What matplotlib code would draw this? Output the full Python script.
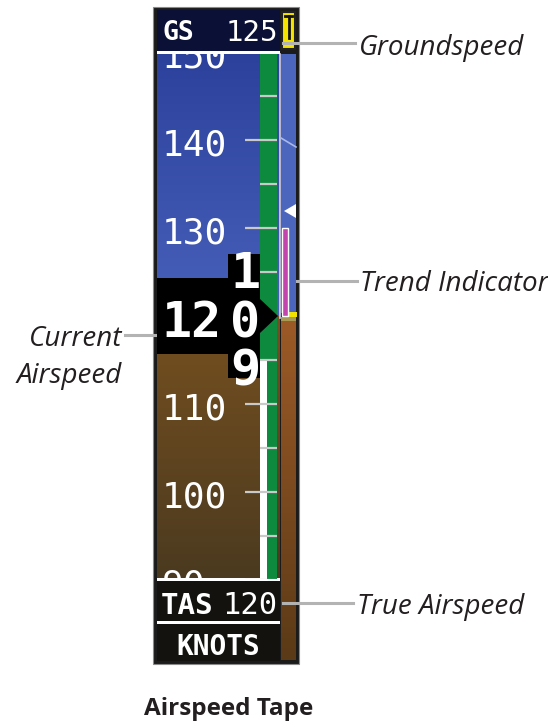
import numpy as np
import matplotlib.pyplot as plt
from matplotlib.patches import Rectangle, Polygon
from matplotlib.colors import LinearSegmentedColormap

# airspeed data (knots)
current_speed = 120
ground_speed = 125
true_airspeed = 120
trend_end = 130          # where the trend vector points to
white_arc_top = 115      # top of the white (flap) arc
tick_speeds = list(range(85, 160, 5))
label_speeds = [90, 100, 110, 130, 140, 150]   # 120 sits under the pointer box
roll_digits = ["1", "0", "9"]   # drum digits above / at / below the pointer

# callout texts
callouts = ["Groundspeed", "Trend Indicator", "True Airspeed"]
left_callout = ["Current", "Airspeed"]
title = "Airspeed Tape"

# layout (pixels)
W, H = 548, 726
px_per_kt = 8.8
y_cur = 316
tape_top, tape_bot = 54, 579
tx0, tx1 = 157, 297
horizon = 316

mono = "DejaVu Sans Mono"
label_font = "Open Sans"
lead_col = "#b3b3b3"

fig = plt.figure(figsize=(W / 100, H / 100), dpi=100)
ax = fig.add_axes([0, 0, 1, 1])

# frame of the instrument
ax.add_patch(Rectangle((153, 7), 146, 657, fc="#1b1b1b", ec="#8a8a8a", lw=0.8, zorder=0))

# attitude background behind the tape
sky = LinearSegmentedColormap.from_list("sky", ["#2c419c", "#4861ba"])
gnd = LinearSegmentedColormap.from_list("gnd", ["#76501f", "#4b3a20"])
grad = np.linspace(0, 1, 200).reshape(-1, 1)
ax.imshow(grad, extent=(157, 280, horizon, tape_top), cmap=sky, aspect="auto", zorder=1)
ax.imshow(grad, extent=(157, 280, tape_bot, horizon), cmap=gnd, aspect="auto", zorder=1)

# right strip (attitude showing through)
strip_gnd = LinearSegmentedColormap.from_list("sg", ["#9c5a27", "#5b3a17"])
ax.add_patch(Rectangle((281, tape_top), 15, 313 - tape_top, fc="#4d66bd", ec="none", zorder=1))
ax.imshow(grad, extent=(281, 296, 660, 318), cmap=strip_gnd, aspect="auto", zorder=1)
ax.add_patch(Rectangle((288, 312), 9, 5, fc="#f2e200", ec="none", zorder=2))
ax.add_patch(Rectangle((281, 317), 15, 4, fc="#a89a55", ec="none", zorder=2))
ax.plot([280, 280], [tape_top, 318], color="#d8d8f0", lw=1.2, zorder=2)
ax.plot([281, 296], [138, 147], color="#a8b8e8", lw=1.2, zorder=2)
ax.add_patch(Polygon([(284, 211), (296, 204), (296, 218)], closed=True, fc="white", ec="none", zorder=2))

# groundspeed box
ax.add_patch(Rectangle((157, 10), 123, 41, fc="#0a1036", ec="none", zorder=2))
ax.add_patch(Rectangle((157, 51), 123, 3, fc="white", ec="none", zorder=3))
ax.add_patch(Rectangle((282, 12), 13, 37, fc="#f5e400", ec="#222222", lw=1.5, zorder=2))
ax.plot([285, 292], [16, 16], color="#111111", lw=2, zorder=3)
ax.plot([288.5, 288.5], [16, 38], color="#111111", lw=2, zorder=3)
ax.text(162, 40, "GS", family=mono, weight="bold", fontsize=19, color="white", va="baseline", zorder=4)
ax.text(278, 41, str(ground_speed), family=mono, fontsize=21, color="white", ha="right",
        va="baseline", zorder=4)

# true airspeed + units boxes
ax.add_patch(Rectangle((157, 578), 123, 3, fc="white", ec="none", zorder=3))
ax.add_patch(Rectangle((157, 581), 123, 40, fc="#13120e", ec="none", zorder=2))
ax.add_patch(Rectangle((157, 621), 123, 2.5, fc="white", ec="none", zorder=3))
ax.add_patch(Rectangle((157, 623.5), 123, 37, fc="#13120e", ec="none", zorder=2))
ax.text(161, 614, "TAS", family=mono, weight="bold", fontsize=21, color="white", va="baseline", zorder=4)
ax.text(278, 614, str(true_airspeed), family=mono, fontsize=22, color="white", ha="right",
        va="baseline", zorder=4)
ax.text(218, 655, "KNOTS", family=mono, weight="bold", fontsize=20, color="white", ha="center",
        va="baseline", zorder=4)

# callouts
ax.plot([283, 355], [43, 43], color=lead_col, lw=2.2, zorder=6)
ax.text(359, 55, callouts[0], family=label_font, style="italic", fontsize=20, color="#231f20",
        va="baseline")
ax.plot([297, 357], [281, 281], color=lead_col, lw=2.2, zorder=6)
ax.text(360, 291, callouts[1], family=label_font, style="italic", fontsize=20, color="#231f20",
        va="baseline")
ax.plot([283, 353], [603, 603], color=lead_col, lw=2.2, zorder=6)
ax.text(357, 614, callouts[2], family=label_font, style="italic", fontsize=20, color="#231f20",
        va="baseline")
ax.plot([125, 160], [335, 335], color=lead_col, lw=2.2, zorder=6)
ax.text(122, 346, left_callout[0], family=label_font, style="italic", fontsize=20, color="#231f20",
        ha="right", va="baseline")
ax.text(122, 383, left_callout[1], family=label_font, style="italic", fontsize=20, color="#231f20",
        ha="right", va="baseline")
ax.text(229, 715, title, family=label_font, weight="bold", fontsize=17.5, color="#231f20",
        ha="center", va="baseline")

ax.set_xlim(0, W)
ax.set_ylim(H, 0)
ax.axis("off")

# the speed tape itself, in knots
tax = fig.add_axes([tx0 / W, 1 - tape_bot / H, (tx1 - tx0) / W, (tape_bot - tape_top) / H])
s_lo = current_speed - (tape_bot - y_cur) / px_per_kt
s_hi = current_speed + (y_cur - tape_top) / px_per_kt
tax.set_xlim(tx0, tx1)
tax.set_ylim(s_lo, s_hi)
tax.axis("off")

# green / white arcs
tax.add_patch(Rectangle((260, white_arc_top), 17, s_hi - white_arc_top, fc="#0e8a3e", ec="none", zorder=1))
tax.add_patch(Rectangle((267, s_lo), 10, white_arc_top - s_lo, fc="#0e8a3e", ec="none", zorder=1))
tax.add_patch(Rectangle((260, s_lo), 7, white_arc_top - s_lo, fc="white", ec="none", zorder=1))

for s in tick_speeds:
    x0 = 245 if s % 10 == 0 else 260
    tax.plot([x0, 277], [s, s], color="#c9c9c9", lw=1.6, zorder=2, solid_capstyle="butt")

drop = 15 / px_per_kt
for s in label_speeds:
    tax.text(162, s - drop, str(s), family=mono, fontsize=26, color="white", va="baseline",
             clip_on=True, zorder=2)

# current airspeed pointer
bh = 38 / px_per_kt
th = 62 / px_per_kt
ah = 17 / px_per_kt
c = current_speed
ptr = [(157, c + bh), (228, c + bh), (228, c + th), (260, c + th), (260, c + ah), (278, c),
       (260, c - ah), (260, c - th), (228, c - th), (228, c - bh), (157, c - bh)]
tax.add_patch(Polygon(ptr, closed=True, fc="black", ec="none", zorder=5))
tax.text(161, c - 21 / px_per_kt, str(current_speed)[:2], family=mono, weight="bold", fontsize=36,
         color="white", va="baseline", zorder=6)

drum = Rectangle((228, c - th), 32, 2 * th, fc="none", ec="none", transform=tax.transData)
tax.add_patch(drum)
step = 49 / px_per_kt
for k, d in zip([1, 0, -1], roll_digits):
    t = tax.text(245, c + k * step - 21 / px_per_kt, d, family=mono, weight="bold", fontsize=36,
                 color="white", ha="center", va="baseline", zorder=6)
    t.set_clip_path(drum)

# trend vector
tax.add_patch(Rectangle((282, current_speed), 6, trend_end - current_speed, fc="#c444ad",
                        ec="white", lw=1, zorder=3))

fig.savefig("out.png", dpi=100)
